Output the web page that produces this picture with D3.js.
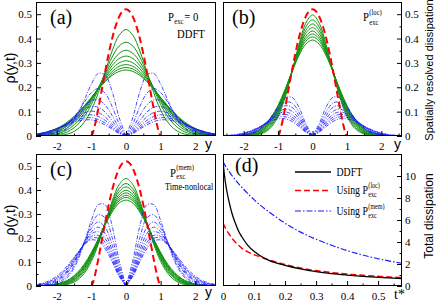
<!DOCTYPE html>
<html>
<head>
<meta charset="utf-8">
<title>Density profiles and dissipation</title>
<style>
  body { margin: 0; background: #fff; }
  svg { display: block; }
  .tick text { font-family: 'Liberation Serif', serif; font-size: 11px; }
</style>
</head>
<body>
<script src="https://d3js.org/d3.v7.min.js"></script>
<script>
// ---- data (half profiles, y >= 0, the figure is symmetric in y) ----
var yGrid = [0, 0.2, 0.4, 0.6, 0.8, 1.0, 1.2, 1.4, 1.6, 1.8, 2.0, 2.2, 2.4, 2.6];

var initY   = [0, 0.1, 0.2, 0.3, 0.4, 0.5, 0.6, 0.7, 0.8, 0.9, 0.95, 1.0, 1.6, 2.6];
var initRho = [0.52, 0.512, 0.489, 0.451, 0.400, 0.338, 0.266, 0.189, 0.112, 0.043, 0.016, 0, 0, 0];

var greenA = [
  [0.437, 0.413, 0.349, 0.264, 0.178, 0.107, 0.058, 0.028, 0.012, 0.005, 0.002, 0.001, 0, 0],
  [0.385, 0.369, 0.324, 0.260, 0.192, 0.130, 0.080, 0.046, 0.024, 0.011, 0.005, 0.002, 0.001, 0],
  [0.352, 0.339, 0.304, 0.254, 0.197, 0.142, 0.095, 0.059, 0.034, 0.018, 0.009, 0.004, 0.002, 0.001],
  [0.328, 0.318, 0.289, 0.247, 0.198, 0.149, 0.105, 0.070, 0.043, 0.025, 0.014, 0.007, 0.003, 0.002],
  [0.309, 0.300, 0.276, 0.240, 0.197, 0.153, 0.113, 0.078, 0.051, 0.032, 0.019, 0.010, 0.005, 0.003],
  [0.293, 0.286, 0.265, 0.234, 0.196, 0.156, 0.118, 0.085, 0.058, 0.038, 0.024, 0.014, 0.008, 0.004],
  [0.281, 0.275, 0.256, 0.228, 0.194, 0.157, 0.122, 0.090, 0.064, 0.043, 0.028, 0.017, 0.010, 0.006],
  [0.271, 0.265, 0.249, 0.223, 0.192, 0.158, 0.125, 0.094, 0.068, 0.047, 0.031, 0.020, 0.012, 0.007]
];
var blueA = [
  [0, 0.077, 0.182, 0.250, 0.257, 0.213, 0.149, 0.089, 0.046, 0.021, 0.008, 0.003, 0.001, 0],
  [0, 0.050, 0.121, 0.175, 0.195, 0.178, 0.140, 0.096, 0.058, 0.032, 0.016, 0.007, 0.003, 0.001],
  [0, 0.034, 0.084, 0.127, 0.148, 0.145, 0.123, 0.093, 0.063, 0.039, 0.021, 0.011, 0.005, 0.002],
  [0, 0.025, 0.063, 0.098, 0.118, 0.121, 0.109, 0.087, 0.063, 0.042, 0.026, 0.015, 0.007, 0.003],
  [0, 0.019, 0.050, 0.078, 0.096, 0.102, 0.095, 0.080, 0.061, 0.043, 0.028, 0.017, 0.009, 0.005],
  [0, 0.015, 0.040, 0.064, 0.080, 0.087, 0.084, 0.073, 0.058, 0.043, 0.030, 0.019, 0.011, 0.007],
  [0, 0.013, 0.033, 0.053, 0.068, 0.075, 0.074, 0.067, 0.055, 0.042, 0.030, 0.020, 0.013, 0.007],
  [0, 0.010, 0.028, 0.045, 0.059, 0.066, 0.066, 0.061, 0.052, 0.041, 0.030, 0.021, 0.013, 0.008]
];

var greenB = [
  [0.497, 0.462, 0.372, 0.259, 0.156, 0.081, 0.036, 0.014, 0.005, 0.001, 0, 0, 0, 0],
  [0.477, 0.446, 0.365, 0.261, 0.164, 0.090, 0.043, 0.018, 0.007, 0.002, 0.001, 0, 0, 0],
  [0.460, 0.432, 0.359, 0.263, 0.170, 0.097, 0.049, 0.022, 0.009, 0.003, 0.001, 0, 0, 0],
  [0.445, 0.420, 0.353, 0.264, 0.176, 0.104, 0.055, 0.026, 0.011, 0.004, 0.001, 0, 0, 0],
  [0.431, 0.408, 0.347, 0.264, 0.180, 0.110, 0.061, 0.030, 0.013, 0.005, 0.002, 0, 0, 0],
  [0.419, 0.398, 0.341, 0.264, 0.184, 0.116, 0.066, 0.034, 0.016, 0.006, 0.002, 0.001, 0, 0],
  [0.407, 0.388, 0.335, 0.263, 0.187, 0.121, 0.071, 0.038, 0.018, 0.008, 0.003, 0.001, 0, 0],
  [0.394, 0.376, 0.328, 0.261, 0.190, 0.126, 0.076, 0.042, 0.021, 0.010, 0.004, 0.002, 0.001, 0]
];
var blueB = [
  [0, 0.052, 0.120, 0.159, 0.156, 0.121, 0.078, 0.043, 0.020, 0.008, 0.003, 0.001, 0, 0],
  [0, 0.043, 0.099, 0.136, 0.138, 0.114, 0.078, 0.045, 0.023, 0.010, 0.004, 0.001, 0, 0],
  [0, 0.035, 0.084, 0.118, 0.124, 0.106, 0.076, 0.047, 0.025, 0.012, 0.005, 0.002, 0, 0],
  [0, 0.030, 0.072, 0.102, 0.110, 0.098, 0.074, 0.048, 0.028, 0.014, 0.006, 0.002, 0.001, 0],
  [0, 0.025, 0.061, 0.089, 0.099, 0.090, 0.071, 0.049, 0.030, 0.016, 0.008, 0.003, 0.001, 0],
  [0, 0.022, 0.053, 0.078, 0.089, 0.084, 0.069, 0.049, 0.031, 0.018, 0.009, 0.004, 0.002, 0],
  [0, 0.018, 0.046, 0.069, 0.079, 0.077, 0.065, 0.048, 0.032, 0.020, 0.011, 0.005, 0.002, 0.001],
  [0, 0.016, 0.039, 0.060, 0.071, 0.070, 0.061, 0.047, 0.033, 0.021, 0.012, 0.006, 0.003, 0.001]
];

var greenC = [
  [0.448, 0.422, 0.354, 0.264, 0.174, 0.103, 0.054, 0.025, 0.010, 0.004, 0.001, 0, 0, 0],
  [0.427, 0.405, 0.345, 0.264, 0.181, 0.112, 0.062, 0.031, 0.014, 0.006, 0.002, 0.001, 0, 0],
  [0.413, 0.393, 0.338, 0.263, 0.185, 0.118, 0.068, 0.036, 0.017, 0.007, 0.003, 0.001, 0, 0],
  [0.399, 0.381, 0.331, 0.262, 0.189, 0.124, 0.074, 0.040, 0.020, 0.009, 0.004, 0.001, 0, 0],
  [0.388, 0.371, 0.325, 0.261, 0.191, 0.129, 0.079, 0.045, 0.023, 0.011, 0.005, 0.002, 0.001, 0],
  [0.378, 0.362, 0.320, 0.259, 0.193, 0.132, 0.083, 0.048, 0.026, 0.013, 0.006, 0.002, 0.001, 0],
  [0.369, 0.355, 0.314, 0.257, 0.195, 0.136, 0.087, 0.052, 0.029, 0.014, 0.007, 0.003, 0.001, 0],
  [0.358, 0.345, 0.308, 0.255, 0.196, 0.140, 0.092, 0.057, 0.032, 0.017, 0.008, 0.004, 0.002, 0.001]
];
var blueC = [
  [0, 0.107, 0.250, 0.338, 0.339, 0.273, 0.184, 0.104, 0.052, 0.022, 0.008, 0.002, 0, 0],
  [0, 0.085, 0.202, 0.283, 0.297, 0.254, 0.182, 0.113, 0.060, 0.029, 0.012, 0.005, 0.001, 0],
  [0, 0.070, 0.171, 0.244, 0.267, 0.240, 0.184, 0.122, 0.072, 0.038, 0.017, 0.007, 0.002, 0],
  [0, 0.061, 0.149, 0.218, 0.245, 0.226, 0.180, 0.125, 0.077, 0.043, 0.021, 0.009, 0.004, 0.001],
  [0, 0.054, 0.133, 0.198, 0.226, 0.217, 0.178, 0.129, 0.083, 0.048, 0.026, 0.012, 0.005, 0.002],
  [0, 0.048, 0.120, 0.181, 0.211, 0.207, 0.176, 0.133, 0.090, 0.055, 0.031, 0.016, 0.007, 0.003],
  [0, 0.044, 0.110, 0.167, 0.199, 0.199, 0.174, 0.136, 0.095, 0.060, 0.035, 0.019, 0.009, 0.004],
  [0, 0.040, 0.101, 0.155, 0.187, 0.192, 0.173, 0.139, 0.101, 0.067, 0.041, 0.023, 0.012, 0.005]
];

// panel (d): total dissipation vs t*
var tGrid    = [0, 0.005, 0.01, 0.02, 0.03, 0.04, 0.05, 0.06, 0.08, 0.1, 0.12, 0.15, 0.2, 0.25, 0.3, 0.35, 0.4, 0.45, 0.5, 0.55, 0.58];
var dissDDFT = [11.3, 10.0, 9.0, 7.6, 6.5, 5.7, 5.0, 4.5, 3.7, 3.15, 2.75, 2.3, 1.88, 1.55, 1.3, 1.12, 0.99, 0.88, 0.79, 0.71, 0.67];
var dissLoc  = [5.7, 5.42, 5.15, 4.7, 4.3, 3.98, 3.7, 3.45, 3.1, 2.85, 2.65, 2.35, 1.95, 1.64, 1.4, 1.22, 1.08, 0.97, 0.88, 0.8, 0.76];
var dissMem  = [11.3, 11.05, 10.8, 10.4, 10.0, 9.65, 9.3, 9.0, 8.4, 7.85, 7.35, 6.7, 5.7, 4.9, 4.25, 3.7, 3.22, 2.82, 2.48, 2.2, 2.05];

// ticks
var rhoTicks = [0, 0.1, 0.2, 0.3, 0.4, 0.5];
var rhoMinor = [0.05, 0.15, 0.25, 0.35, 0.45];
var yTicks   = [-2, -1, 0, 1, 2];
var yMinor   = [-2.5, -1.5, -0.5, 0.5, 1.5, 2.5];
var tTicks   = [0, 0.1, 0.2, 0.3, 0.4, 0.5];
var tMinor   = [0.05, 0.15, 0.25, 0.35, 0.45, 0.55];
var dTicks   = [0, 2, 4, 6, 8, 10];
var dMinor   = [1, 3, 5, 7, 9, 11];

var legendNames = ["DDFT", "Using P", "Using P"];

// ---- layout ----
var SERIF = "'Liberation Serif', 'Times New Roman', serif";
var SANS  = "'Liberation Sans', Arial, sans-serif";
var GREEN = "#129412", RED = "#ff0000", BLUE = "#1a1aff";

var frames = {
  a: {x0: 36,  y0: 2,   x1: 216, y1: 136},
  b: {x0: 223, y0: 2,   x1: 402, y1: 136},
  c: {x0: 36,  y0: 154, x1: 216, y1: 286},
  d: {x0: 223, y0: 154, x1: 402, y1: 286}
};

var svg = d3.select("body").append("svg")
    .attr("width", 436)
    .attr("height", 303);
svg.append("rect").attr("width", 436).attr("height", 303).attr("fill", "#fff");

function fmtNum(d){ return String(d); }

function addClip(id, f) {
  svg.append("clipPath").attr("id", "clip-" + id).append("rect")
      .attr("x", f.x0).attr("y", f.y0)
      .attr("width", f.x1 - f.x0).attr("height", f.y1 - f.y0);
  return svg.append("g").attr("clip-path", "url(#clip-" + id + ")");
}

function drawAxis(axisFn, scale, pos, major, minor, pad, showLabels) {
  var isX = (axisFn === d3.axisBottom);
  var tr = isX ? "translate(0," + pos + ")" : "translate(" + pos + ",0)";
  svg.append("g").attr("transform", tr)
      .call(axisFn(scale).tickValues(major).tickSize(-5).tickPadding(pad)
            .tickFormat(showLabels ? fmtNum : ""))
      .call(function(s){ s.select(".domain").remove(); });
  svg.append("g").attr("transform", tr)
      .call(axisFn(scale).tickValues(minor).tickSize(-2.5).tickFormat(""))
      .call(function(s){ s.select(".domain").remove(); });
}

function frame(f) {
  svg.append("rect")
      .attr("x", f.x0 + 0.5).attr("y", f.y0 + 0.5)
      .attr("width", f.x1 - f.x0 - 1).attr("height", f.y1 - f.y0 - 1)
      .attr("fill", "none").attr("stroke", "#000").attr("stroke-width", 1);
}

function fullProfile(vals) {
  var pts = [];
  for (var i = yGrid.length - 1; i > 0; i--) pts.push([-yGrid[i], vals[i]]);
  for (var j = 0; j < yGrid.length; j++) pts.push([yGrid[j], vals[j]]);
  return pts;
}
function halfProfile(vals, sign) {
  return yGrid.map(function(y, i){ return [sign * y, vals[i]]; });
}

// condensed rich text: pieces are plain text or {sup, sub} stacks
function richText(x, y, size, pieces, squeeze, subDy) {
  var grp = svg.append("g")
      .attr("transform", "translate(" + x + "," + y + ") scale(" + (squeeze || 0.82) + ",1)")
      .attr("font-family", SERIF).attr("fill", "#000");
  var cx = 0;
  pieces.forEach(function(p){
    if (typeof p === "string") {
      var t = grp.append("text").attr("x", cx).attr("y", 0).attr("font-size", size).text(p);
      cx += t.node().getComputedTextLength();
    } else {
      var w = 0, small = size * 0.62;
      if (p.sup) {
        var s = grp.append("text").attr("x", cx + 0.5).attr("y", -size * 0.48)
            .attr("font-size", small).text(p.sup);
        w = Math.max(w, s.node().getComputedTextLength());
      }
      if (p.sub) {
        var b = grp.append("text").attr("x", cx + 0.5)
            .attr("y", subDy !== undefined ? subDy : size * 0.28)
            .attr("font-size", small).text(p.sub);
        w = Math.max(w, b.node().getComputedTextLength());
      }
      cx += w + 1.5;
    }
  });
  return grp;
}

function profilePanel(id, greens, blues) {
  var f = frames[id];
  var x = d3.scaleLinear().domain([-2.6, 2.6]).range([f.x0, f.x1]);
  var y = d3.scaleLinear().domain([0, 0.55]).range([f.y1, f.y0]);
  var plot = addClip(id, f);

  var smooth = d3.line().x(function(d){ return x(d[0]); }).y(function(d){ return y(d[1]); })
      .curve(d3.curveCatmullRom.alpha(0.5));
  var mono = d3.line().x(function(d){ return x(d[0]); }).y(function(d){ return y(d[1]); })
      .curve(d3.curveMonotoneX);

  greens.forEach(function(v){
    plot.append("path").attr("d", smooth(fullProfile(v)))
        .attr("fill", "none").attr("stroke", GREEN).attr("stroke-width", 1);
  });
  blues.forEach(function(v){
    [-1, 1].forEach(function(sg){
      plot.append("path").attr("d", smooth(halfProfile(v, sg)))
          .attr("fill", "none").attr("stroke", BLUE).attr("stroke-width", 0.8)
          .attr("stroke-dasharray", "4,1.5,1,1.5");
    });
  });
  var init = initY.map(function(yy, i){ return [yy, initRho[i]]; });
  var initFull = init.slice(1).reverse().map(function(d){ return [-d[0], d[1]]; }).concat(init);
  plot.append("path").attr("d", mono(initFull))
      .attr("fill", "none").attr("stroke", RED).attr("stroke-width", 2)
      .attr("stroke-dasharray", "7,4");
  return {x: x, y: y, f: f};
}

// ---- panels (a), (b), (c) ----
var pa = profilePanel("a", greenA, blueA);
var pb = profilePanel("b", greenB, blueB);
var pc = profilePanel("c", greenC, blueC);

drawAxis(d3.axisLeft, pa.y, pa.f.x0, rhoTicks, rhoMinor, 4, true);
drawAxis(d3.axisBottom, pa.x, pa.f.y1, yTicks, yMinor, 6, true);
drawAxis(d3.axisRight, pb.y, pb.f.x1, rhoTicks, rhoMinor, 3, true);
drawAxis(d3.axisBottom, pb.x, pb.f.y1, yTicks, yMinor, 6, true);
drawAxis(d3.axisLeft, pc.y, pc.f.x0, rhoTicks, rhoMinor, 4, true);
drawAxis(d3.axisBottom, pc.x, pc.f.y1, yTicks, yMinor, 6, true);

// ---- panel (d) ----
var fd = frames.d;
var xd = d3.scaleLinear().domain([0, 0.577]).range([fd.x0, fd.x1]);
var yd = d3.scaleLinear().domain([0, 12]).range([fd.y1, fd.y0]);
var plotD = addClip("d", fd);
var lineD = function(vals){
  return d3.line().x(function(d, i){ return xd(tGrid[i]); }).y(function(d){ return yd(d); })
      .curve(d3.curveMonotoneX)(vals);
};
plotD.append("path").attr("d", lineD(dissMem)).attr("fill", "none")
    .attr("stroke", BLUE).attr("stroke-width", 1.2).attr("stroke-dasharray", "6,2,1.5,2");
plotD.append("path").attr("d", lineD(dissLoc)).attr("fill", "none")
    .attr("stroke", RED).attr("stroke-width", 1.5).attr("stroke-dasharray", "6,3");
plotD.append("path").attr("d", lineD(dissDDFT)).attr("fill", "none")
    .attr("stroke", "#000").attr("stroke-width", 1.3);

drawAxis(d3.axisBottom, xd, fd.y1, tTicks, tMinor, 6, true);
drawAxis(d3.axisRight, yd, fd.x1, dTicks, dMinor, 3, true);

// legend (d)
var legStyles = [
  {stroke: "#000", dash: null, w: 1.3},
  {stroke: RED, dash: "6,3", w: 1.5},
  {stroke: BLUE, dash: "6,2,1.5,2", w: 1.2}
];
var legY = [172, 190.5, 211];
legStyles.forEach(function(s, i){
  svg.append("line").attr("x1", 295).attr("x2", 331).attr("y1", legY[i]).attr("y2", legY[i])
      .attr("stroke", s.stroke).attr("stroke-width", s.w)
      .attr("stroke-dasharray", s.dash);
});
richText(336.5, 176, 12, [legendNames[0]]);
richText(336.5, 194, 12, [legendNames[1], {sup: "(loc)", sub: "exc"}]);
richText(336.5, 215, 12, [legendNames[2], {sup: "(mem)", sub: "exc"}]);

// frames on top
["a", "b", "c", "d"].forEach(function(k){ frame(frames[k]); });

// ---- annotations ----
richText(50, 24, 20, ["(a)"], 1);
richText(232, 24, 20, ["(b)"], 1);
richText(50, 176, 20, ["(c)"], 1);
richText(235, 172, 20, ["(d)"], 1);

richText(168, 21, 13, ["P", {sub: "exc"}, "= 0"], 0.82, 2.5);
richText(177, 38, 13, ["DDFT"]);
richText(363, 21, 13, ["P", {sup: "(loc)", sub: "exc"}]);
richText(170, 176.5, 13, ["P", {sup: "(mem)", sub: "exc"}], 0.82, 2.5);
richText(165, 190, 11, ["Time-nonlocal"], 0.75);

// axis names
function axisName(x, y, txt, font, size) {
  svg.append("text").attr("x", x).attr("y", y)
      .attr("font-family", font).attr("font-size", size).text(txt);
}
axisName(205, 149, "y", SANS, 14);
axisName(394, 149, "y", SANS, 14);
axisName(205, 297, "y", SANS, 14);
axisName(394, 299, "t*", SERIF, 14);

function vName(x, y, txt, size) {
  svg.append("text").attr("transform", "translate(" + x + "," + y + ") rotate(-90)")
      .attr("text-anchor", "middle").attr("font-family", SANS).attr("font-size", size).text(txt);
}
vName(15, 68, "\u03c1(y,t)", 14);
vName(15, 220, "\u03c1(y,t)", 14);
vName(433, 70, "Spatially resolved dissipation", 11);
vName(433, 216, "Total dissipation", 12);
</script>
</body>
</html>
